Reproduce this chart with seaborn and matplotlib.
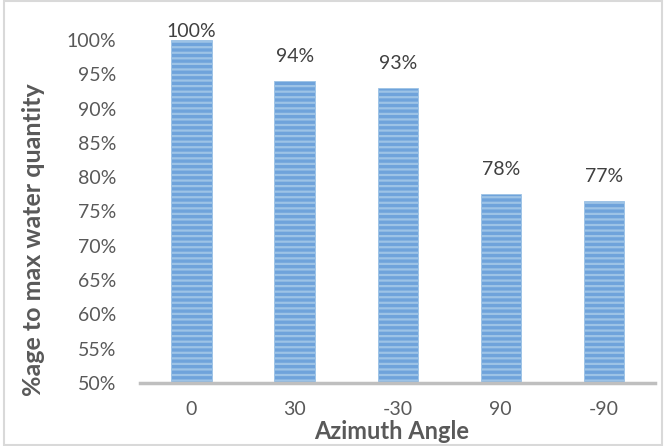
import pandas as pd
import matplotlib.pyplot as plt
import seaborn as sns
from matplotlib.patches import Rectangle
from matplotlib.ticker import FuncFormatter

# Data
angles = ['0', '30', '-30', '90', '-90']
pct_water = [100.0, 94.0, 93.0, 77.6, 76.5]
bar_labels = ['100%', '94%', '93%', '78%', '77%']

df = pd.DataFrame({'angle': angles, 'pct': pct_water})

sns.set_style('white')
plt.rcParams['font.family'] = ['Lato', 'DejaVu Sans']
plt.rcParams['hatch.color'] = '#DCE9F6'
plt.rcParams['hatch.linewidth'] = 1.6

fig = plt.figure(figsize=(6.65, 4.46), dpi=100)
ax = fig.add_axes([0.2105, 0.1413, 0.775, 0.769])

sns.barplot(x='angle', y='pct', data=df, order=angles, color='#6FA3DB',
            width=0.39, saturation=1, ax=ax)
for p in ax.patches:
    p.set_hatch('---')
    p.set_edgecolor('#9DC3E6')
    p.set_linewidth(0.6)

# value labels above bars (the top one is pushed down to stay inside the chart)
for i, (v, lab) in enumerate(zip(pct_water, bar_labels)):
    ax.text(i, min(v + 2.3, 100.0), lab, ha='center', va='bottom',
            fontsize=14, color='#404040', clip_on=False)

ax.set_ylim(50, 100)
ax.set_xlim(-0.5, 4.5)
ax.set_yticks(range(50, 101, 5))
ax.yaxis.set_major_formatter(FuncFormatter(lambda v, _: f'{int(v)}%'))
ax.tick_params(axis='both', length=0, labelsize=14, colors='#595959')
ax.tick_params(axis='x', pad=13)
ax.tick_params(axis='y', pad=17)

sns.despine(ax=ax, left=True, top=True, right=True)
ax.spines['bottom'].set_color('#BFBFBF')
ax.spines['bottom'].set_linewidth(2.5)

ax.set_xlabel('Azimuth Angle', fontsize=17, fontweight='bold', color='#595959')
ax.set_ylabel('%age to max water quantity', fontsize=18, fontweight='bold', color='#595959')
ax.xaxis.set_label_coords(0.489, -0.108)
ax.yaxis.set_label_coords(-0.206, 0.417)
ax.yaxis.label.set_va('center')

# outer chart border
fig.patches.append(Rectangle((0.006, 0.002), 0.99, 0.996, transform=fig.transFigure,
                             fill=False, edgecolor='#D9D9D9', linewidth=1.5))

fig.savefig('out.png', dpi=100)
